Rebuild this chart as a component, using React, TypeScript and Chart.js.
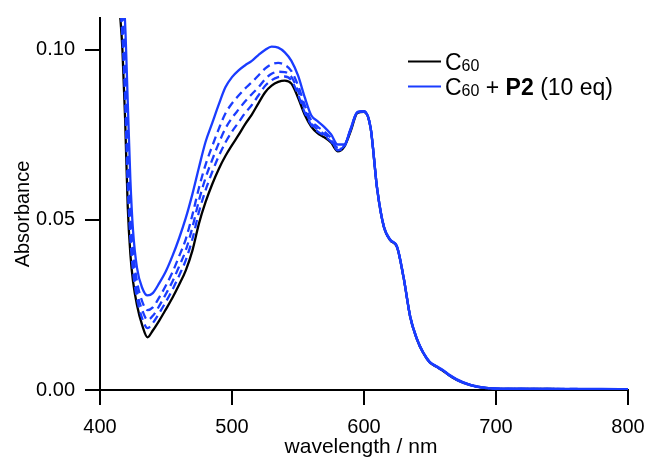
import React, { useEffect, useRef } from "react";
import { Chart, registerables } from "chart.js";

Chart.register(...registerables);

const wavelengths = [
  410, 414, 417, 419, 421, 423, 425, 428, 432, 436, 440, 445, 450, 455, 460,
  465, 470, 475, 480, 485, 490, 495, 500, 505, 510, 515, 520, 525, 530, 535,
  540, 545, 550, 555, 560, 565, 570, 575, 580, 585, 590, 595, 600, 605, 610,
  615, 620, 625, 630, 635, 640, 645, 650, 655, 660, 665, 670, 680, 690, 700,
  720, 740, 760, 780, 800,
];

const c60 = [
  0.16, 0.118, 0.1, 0.08, 0.054, 0.04, 0.032, 0.025, 0.019, 0.0155, 0.0175,
  0.0205, 0.0238, 0.0272, 0.031, 0.0352, 0.041, 0.049, 0.0553, 0.0605, 0.065,
  0.0688, 0.072, 0.075, 0.0782, 0.081, 0.0843, 0.0875, 0.0895, 0.0906, 0.091,
  0.0901, 0.086, 0.081, 0.0775, 0.0755, 0.0743, 0.0728, 0.0702, 0.0715,
  0.0762, 0.0815, 0.0818, 0.077, 0.059, 0.048, 0.044, 0.042, 0.033, 0.0215,
  0.015, 0.0108, 0.008, 0.0068, 0.0056, 0.0042, 0.003, 0.0015, 0.0007, 0.0004,
  0.0003, 0.0003, 0.0002, 0.0002, 0.0002,
];

const p2_10eq = [
  0.18, 0.135, 0.118, 0.108, 0.085, 0.062, 0.047, 0.036, 0.03, 0.0278, 0.0285,
  0.0315, 0.035, 0.0395, 0.0447, 0.0506, 0.0576, 0.0655, 0.073, 0.0785, 0.084,
  0.089, 0.092, 0.094, 0.0955, 0.0968, 0.0985, 0.1, 0.101, 0.1007, 0.0993,
  0.0968, 0.0925, 0.0862, 0.0808, 0.079, 0.0773, 0.0752, 0.0722, 0.0722,
  0.077, 0.0818, 0.082, 0.0772, 0.0592, 0.0482, 0.0442, 0.0422, 0.0332,
  0.0217, 0.0152, 0.011, 0.0082, 0.007, 0.0058, 0.0044, 0.0032, 0.0016,
  0.0008, 0.0004, 0.0004, 0.0003, 0.0003, 0.0003, 0.0002,
];

const p2_stepA = [
  0.172, 0.1285, 0.111, 0.097, 0.073, 0.0535, 0.0413, 0.032, 0.026, 0.0235,
  0.0243, 0.0273, 0.0308, 0.0347, 0.0394, 0.0444, 0.0515, 0.0595, 0.0663,
  0.0717, 0.0768, 0.0813, 0.0843, 0.0866, 0.0887, 0.0905, 0.0925, 0.0945,
  0.0958, 0.0962, 0.0956, 0.0938, 0.0896, 0.0839, 0.0793, 0.0774, 0.076,
  0.0741, 0.0713, 0.0718, 0.0768, 0.0817, 0.0819, 0.0771, 0.0591, 0.0481,
  0.0441, 0.0421, 0.0331, 0.0216, 0.0151, 0.0109, 0.0081, 0.0069, 0.0057,
  0.0043, 0.0031, 0.0016, 0.0007, 0.0004, 0.0003, 0.0003, 0.0003, 0.0002,
  0.0002,
];

const p2_stepB = [
  0.168, 0.125, 0.107, 0.091, 0.066, 0.049, 0.038, 0.029, 0.0235, 0.0206,
  0.0218, 0.0248, 0.0283, 0.032, 0.0364, 0.0411, 0.0478, 0.0558, 0.0624,
  0.0677, 0.0726, 0.0769, 0.08, 0.0825, 0.0849, 0.087, 0.089, 0.0914, 0.093,
  0.0936, 0.0935, 0.0921, 0.088, 0.0826, 0.0785, 0.0766, 0.0752, 0.0735,
  0.0708, 0.0717, 0.0767, 0.0816, 0.0819, 0.0771, 0.0591, 0.0481, 0.0441,
  0.0421, 0.0331, 0.0216, 0.0151, 0.0109, 0.0081, 0.0069, 0.0057, 0.0043,
  0.0031, 0.0015, 0.0007, 0.0004, 0.0003, 0.0003, 0.0002, 0.0002, 0.0002,
];

const p2_stepC = [
  0.164, 0.1215, 0.1035, 0.0855, 0.06, 0.0445, 0.035, 0.027, 0.021, 0.0182,
  0.0197, 0.0227, 0.026, 0.0296, 0.0337, 0.0382, 0.0444, 0.0524, 0.0588,
  0.0641, 0.0688, 0.0728, 0.076, 0.0787, 0.0815, 0.0838, 0.0866, 0.0894,
  0.0911, 0.092, 0.0922, 0.0911, 0.0869, 0.0817, 0.078, 0.076, 0.0747,
  0.0731, 0.0705, 0.0716, 0.0766, 0.0816, 0.0818, 0.077, 0.059, 0.048,
  0.044, 0.042, 0.033, 0.0215, 0.015, 0.0108, 0.008, 0.0068, 0.0056, 0.0042,
  0.003, 0.0015, 0.0007, 0.0004, 0.0003, 0.0003, 0.0002, 0.0002, 0.0002,
];

const xTicks = [400, 500, 600, 700, 800];
const yTicks = [0, 0.05, 0.1];
const xTitle = "wavelength / nm";
const yTitle = "Absorbance";

const BLUE = "#1a3cff";
const FONT = "'Liberation Sans', Arial, Helvetica, sans-serif";

const toPoints = (vals: number[]) =>
  wavelengths.map((w, i) => ({ x: w, y: vals[i] }));

const annotationsPlugin = {
  id: "customLegendAndTitles",
  afterDraw(chart: any) {
    const ctx = chart.ctx as CanvasRenderingContext2D;
    const area = chart.chartArea;
    ctx.save();
    // axis titles
    ctx.fillStyle = "#000";
    ctx.textAlign = "center";
    ctx.textBaseline = "alphabetic";
    ctx.font = `21px ${FONT}`;
    ctx.fillText(xTitle, (area.left + area.right) / 2 - 3, chart.height - 4);
    ctx.font = `20px ${FONT}`;
    ctx.save();
    ctx.translate(29, area.bottom - 176);
    ctx.rotate(-Math.PI / 2);
    ctx.fillText(yTitle, 0, 0);
    ctx.restore();

    // legend
    const x0 = 408;
    const rows = [
      { color: "#000", y: 61.5, parts: [["C", 23, "normal", 0], ["60", 16, "normal", 1]] },
      {
        color: BLUE,
        y: 86.5,
        parts: [
          ["C", 23, "normal", 0],
          ["60", 16, "normal", 1],
          [" + ", 23, "normal", 0],
          ["P2", 23, "bold", 0],
          [" (10 eq)", 23, "normal", 0],
        ],
      },
    ];
    for (const r of rows) {
      ctx.strokeStyle = r.color;
      ctx.lineWidth = 2;
      ctx.beginPath();
      ctx.moveTo(x0, r.y);
      ctx.lineTo(x0 + 33, r.y);
      ctx.stroke();
      let x = x0 + 37;
      ctx.fillStyle = "#000";
      ctx.textBaseline = "alphabetic";
      ctx.textAlign = "left";
      for (const p of r.parts as any[]) {
        ctx.font = `${p[2]} ${p[1]}px ${FONT}`;
        ctx.fillText(p[0], x, r.y + 8.5 + p[3]);
        x += ctx.measureText(p[0]).width;
      }
    }
    ctx.restore();
  },
};

export default function App() {
  const ref = useRef<HTMLCanvasElement | null>(null);
  useEffect(() => {
    document.body.style.margin = "0";
    if (!ref.current) return;
    Chart.defaults.font.family = FONT;
    const chart = new Chart(ref.current, {
      type: "line",
      data: {
        datasets: [
          { label: "C60 + P2 (10 eq)", data: toPoints(p2_10eq), borderColor: BLUE, borderWidth: 2.3 },
          { label: "step A", data: toPoints(p2_stepA), borderColor: BLUE, borderWidth: 2.3, borderDash: [8, 5] },
          { label: "step B", data: toPoints(p2_stepB), borderColor: BLUE, borderWidth: 2.3, borderDash: [8, 5] },
          { label: "step C", data: toPoints(p2_stepC), borderColor: BLUE, borderWidth: 2.3, borderDash: [8, 5] },
          { label: "C60", data: toPoints(c60), borderColor: "#000", borderWidth: 2.3 },
        ].map((d) => ({ ...d, pointRadius: 0, fill: false, cubicInterpolationMode: "monotone" as const })),
      },
      options: {
        animation: false,
        responsive: false,
        events: [],
        layout: { padding: { top: 18, right: 19, left: 0, bottom: 0 } },
        plugins: { legend: { display: false }, tooltip: { enabled: false } },
        scales: {
          x: {
            type: "linear",
            min: 400,
            max: 800,
            afterBuildTicks: (s: any) => {
              s.ticks = xTicks.map((v) => ({ value: v }));
            },
            afterFit: (s: any) => {
              s.height = 67;
              s.paddingLeft = 0;
              s.paddingRight = 0;
            },
            ticks: { color: "#000", font: { size: 20 }, padding: 10, maxRotation: 0, autoSkip: false, callback: (v: any) => String(v) },
            grid: { drawOnChartArea: false, drawTicks: true, tickLength: 15, tickWidth: 2, tickColor: "#000", color: "#000", lineWidth: 2 },
            border: { display: true, color: "#000", width: 2 },
            title: { display: false },
          },
          y: {
            type: "linear",
            min: 0,
            max: 0.1094,
            afterBuildTicks: (s: any) => {
              s.ticks = yTicks.map((v) => ({ value: v }));
            },
            afterFit: (s: any) => {
              s.width = 100;
              s.paddingTop = 0;
              s.paddingBottom = 0;
            },
            ticks: { color: "#000", font: { size: 20 }, padding: 10, callback: (v: any) => Number(v).toFixed(2) },
            grid: { drawOnChartArea: false, drawTicks: true, tickLength: 15, tickWidth: 2, tickColor: "#000", color: "#000", lineWidth: 2 },
            border: { display: true, color: "#000", width: 2 },
            title: { display: false },
          },
        },
      },
      plugins: [annotationsPlugin],
    });
    return () => chart.destroy();
  }, []);
  return (
    <div style={{ position: "relative", width: 647, height: 457 }}>
      <canvas ref={ref} width={647} height={457} style={{ display: "block" }} />
    </div>
  );
}
